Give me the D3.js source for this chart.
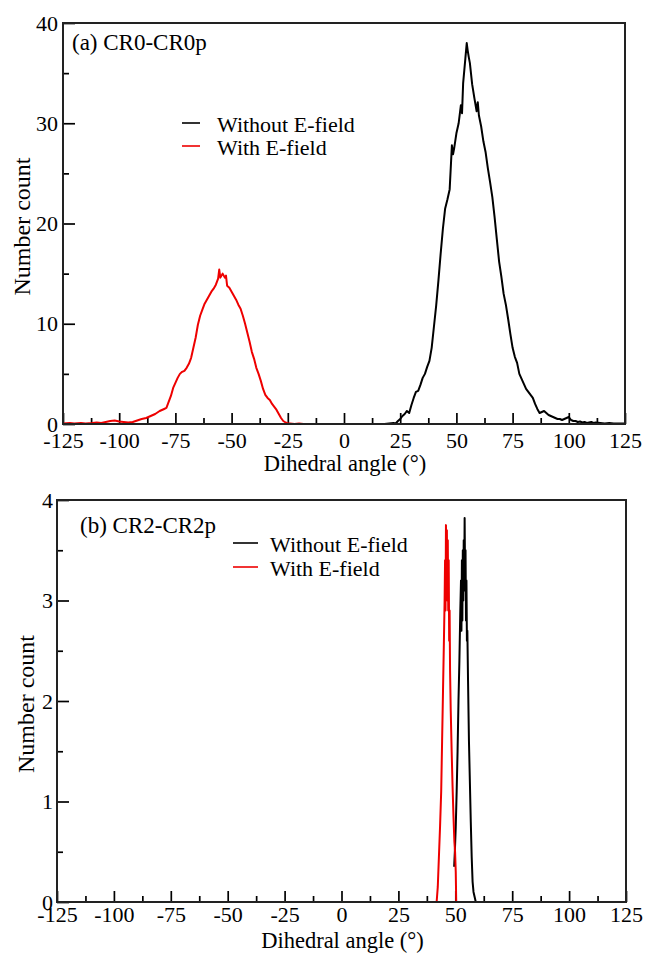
<!DOCTYPE html>
<html>
<head>
<meta charset="utf-8">
<script src="https://cdn.jsdelivr.net/npm/d3@7"></script>
<style>
  html, body { margin: 0; padding: 0; background: #fff; }
  svg { display: block; }
  svg text { font-family: "Liberation Serif", "Times New Roman", serif !important; fill: #000; }
</style>
</head>
<body>
<svg id="chart" width="648" height="956"></svg>
<script>
// ---------------- DATA ----------------
const xTicks = [-125, -100, -75, -50, -25, 0, 25, 50, 75, 100, 125];
const xMinorTicks = [-112.5, -87.5, -62.5, -37.5, -12.5, 12.5, 37.5, 62.5, 87.5, 112.5];
const yTicksA = [0, 10, 20, 30, 40];
const yMinorA = [5, 15, 25, 35];
const yTicksB = [0, 1, 2, 3, 4];
const yMinorB = [0.5, 1.5, 2.5, 3.5];
const seriesNames = ["Without E-field", "With E-field"];
const seriesColors = ["#000000", "#ee0000"];
const panelTitles = ["(a) CR0-CR0p", "(b) CR2-CR2p"];
const xLabel = "Dihedral angle (°)";
const yLabel = "Number count";

// Panel (a): CR0-CR0p, without E-field  [angle, count]
const aWithout = [
  [15,0],[18,0],[20,0.05],[22,0.1],[23,0.05],[24,0.3],[25,0.5],[26,0.8],[27,1.0],[28,1.3],[29,1.1],
  [30,1.9],[31,2.6],[32,3.2],[33,3.3],[34,3.9],[35,4.6],[36,5.0],[37,5.7],[38,6.3],[39,7.6],
  [40,9.7],[41,11.8],[42,14.3],[43,17.0],[44,19.5],[45,21.5],[46,22.4],[47,23.4],[48,27.8],[48.5,26.9],
  [49,27.5],[50,29.0],[51,30.0],[52,31.8],[52.5,31.0],[53,34.0],[54,36.5],[54.6,38.0],[55,37.3],[55.5,36.6],
  [56,36.0],[57,33.9],[58,32.5],[59,31.2],[59.5,32.1],[60,30.8],[61,29.7],[62,28.2],[63,27.1],[64,25.5],
  [65,24.1],[66,22.6],[67,20.6],[68,18.4],[69,16.2],[70,14.7],[71,13.0],[72,11.9],[73,10.5],[74,9.0],
  [75,7.6],[76,6.7],[77,6.1],[78,5.0],[79,4.5],[80,4.0],[81,3.5],[82,3.2],[83,2.9],[84,2.6],
  [85,2.0],[86,1.5],[87,1.1],[88,1.2],[89,1.3],[90,1.1],[91,0.9],[92,0.8],[93,0.7],[94,0.6],
  [95,0.5],[96,0.5],[97,0.4],[98,0.5],[99,0.6],[100,0.7],[101,0.4],[102,0.3],[103,0.3],[104,0.2],
  [105,0.25],[106,0.15],[107,0.2],[108,0.1],[110,0.2],[111,0.1],[112,0.15],[114,0.1],[116,0.05],
  [118,0.1],[120,0.05],[122,0.05],[125,0.05]
];
// Panel (a): with E-field
const aWith = [
  [-125,0.05],[-122,0.1],[-120,0.05],[-117,0.1],[-115,0.05],[-112,0.1],[-110,0.15],[-108,0.1],
  [-106,0.2],[-104,0.3],[-102,0.35],[-100,0.25],[-98,0.2],[-96,0.15],[-94,0.2],[-92,0.35],[-90,0.5],
  [-88,0.6],[-86,0.8],[-84,1.0],[-82,1.3],[-80,1.5],[-79,1.6],[-78,2.2],[-77,2.8],[-76,3.6],[-75,4.1],
  [-74,4.6],[-73,5.0],[-72,5.2],[-71,5.3],[-70,5.6],[-69,6.0],[-68,6.6],[-67,7.6],[-66,8.6],[-65,9.9],
  [-64,10.8],[-63,11.4],[-62,12.0],[-61,12.4],[-60,12.8],[-59,13.2],[-58,13.5],[-57,13.9],[-56,14.5],
  [-55.5,15.4],[-55,14.6],[-54,15.0],[-53,14.6],[-52.5,14.8],[-52,13.8],[-51,13.6],[-50,13.2],[-49,12.8],
  [-48,12.4],[-47,11.9],[-46,11.5],[-45,10.8],[-44,10.0],[-43,9.1],[-42,8.2],[-41,7.2],[-40,6.5],
  [-39,5.6],[-38,5.0],[-37,4.3],[-36,3.5],[-35,2.9],[-34,2.6],[-33,2.4],[-32,2.0],[-31,1.7],[-30,1.4],
  [-29,1.0],[-28,0.6],[-27,0.3],[-26,0.15],[-25,0.05],[-24,0.05],[-22,0],[-20,0.05],[-18,0],[-15,0]
];
// Panel (b): CR2-CR2p, without E-field
const bWithout = [
  [49.5,0.35],[49.8,0.5],[50.2,0.75],[50.6,1.1],[51.0,1.5],[51.4,2.0],[51.8,2.4],[52.2,2.9],[52.5,3.2],
  [52.7,2.7],[52.9,3.4],[53.1,2.8],[53.3,3.5],[53.5,3.0],[53.7,3.6],[53.9,3.1],[54.1,3.82],[54.3,3.2],
  [54.5,3.5],[54.7,2.8],[54.9,3.2],[55.1,2.6],[55.3,2.7],[55.6,2.2],[56.0,1.6],[56.4,1.2],[56.8,0.8],
  [57.2,0.45],[57.6,0.2],[58.0,0.1],[58.5,0.05],[59,0]
];
// Panel (b): with E-field
const bWith = [
  [41.8,0],[42.3,0.15],[42.8,0.45],[43.3,0.75],[43.8,1.1],[44.2,1.6],[44.6,2.1],[45.0,2.6],[45.3,3.0],
  [45.5,3.4],[45.7,2.9],[45.9,3.75],[46.1,3.3],[46.3,3.7],[46.5,3.0],[46.7,3.6],[46.9,2.9],[47.1,3.4],
  [47.3,2.6],[47.5,2.9],[47.7,2.3],[48.0,1.9],[48.4,1.5],[48.8,1.15],[49.2,0.85],[49.6,0.6],[49.9,0.5],
  [50.2,0.3],[50.4,0]
];

// ---------------- DRAW ----------------
const svg = d3.select("#chart");
const FONT = "Liberation Serif, Times New Roman, serif";
const fmt = d => String(d); // plain hyphen-minus like the original

function panel(cfg) {
  const { left, right, top, bottom, yMax, yTicks, yMinor, series, title, titlePos,
          legend, xPad, yPad, xLabelY, yLabelX } = cfg;
  const x = d3.scaleLinear().domain([-125, 125]).range([left, right]);
  const y = d3.scaleLinear().domain([0, yMax]).range([bottom, top]);
  const g = svg.append("g");

  const xa = g.append("g").attr("transform", `translate(0,${bottom})`)
    .call(d3.axisBottom(x).tickValues(xTicks).tickSize(-11).tickPadding(xPad).tickFormat(fmt));
  g.append("g").attr("transform", `translate(0,${bottom})`)
    .call(d3.axisBottom(x).tickValues(xMinorTicks).tickSize(-6).tickFormat(""));
  const ya = g.append("g").attr("transform", `translate(${left},0)`)
    .call(d3.axisLeft(y).tickValues(yTicks).tickSize(-12).tickPadding(yPad).tickFormat(fmt));
  g.append("g").attr("transform", `translate(${left},0)`)
    .call(d3.axisLeft(y).tickValues(yMinor).tickSize(-6).tickFormat(""));

  g.selectAll(".domain").remove();
  g.selectAll("g").attr("font-family", FONT);
  g.selectAll(".tick line").attr("stroke", "#000").attr("stroke-width", 1.7);
  xa.selectAll("text").attr("font-family", FONT).style("font-size", "22px");
  ya.selectAll("text").attr("font-family", FONT).style("font-size", "22px");

  const line = d3.line().x(d => x(d[0])).y(d => y(d[1]));
  series.forEach((s, i) => {
    g.append("path").datum(s).attr("d", line)
      .attr("fill", "none").attr("stroke", seriesColors[i])
      .attr("stroke-width", 2).attr("stroke-linejoin", "round");
  });

  g.append("rect").attr("x", left).attr("y", top)
    .attr("width", right - left).attr("height", bottom - top)
    .attr("fill", "none").attr("stroke", "#222").attr("stroke-width", 2);

  g.append("text").attr("x", titlePos[0]).attr("y", titlePos[1])
    .attr("font-family", FONT).style("font-size", "23px").text(title);

  seriesNames.forEach((n, i) => {
    const ly = legend.y0 + i * legend.dy;
    g.append("line").attr("x1", legend.x1).attr("x2", legend.x2)
      .attr("y1", ly).attr("y2", ly).attr("stroke", seriesColors[i]).attr("stroke-width", 1.6);
    g.append("text").attr("x", legend.tx).attr("y", ly + 9)
      .attr("font-family", FONT).style("font-size", "22px").text(n);
  });

  g.append("text").attr("x", (left + right) / 2 + 1).attr("y", xLabelY)
    .attr("text-anchor", "middle").attr("font-family", FONT)
    .style("font-size", "22.5px").text(xLabel);
  g.append("text")
    .attr("transform", `translate(${yLabelX},${(top + bottom) / 2 + 3}) rotate(-90)`)
    .attr("text-anchor", "middle").attr("font-family", FONT)
    .style("font-size", "24px").text(yLabel);
}

panel({
  left: 63, right: 625, top: 23, bottom: 424, yMax: 40,
  yTicks: yTicksA, yMinor: yMinorA, series: [aWithout, aWith],
  title: panelTitles[0], titlePos: [72, 50],
  legend: { x1: 182, x2: 200, tx: 217, y0: 123, dy: 23 },
  xPad: 8, yPad: 5, xLabelY: 471, yLabelX: 30
});

panel({
  left: 57, right: 626, top: 500, bottom: 902, yMax: 4,
  yTicks: yTicksB, yMinor: yMinorB, series: [bWithout, bWith],
  title: panelTitles[1], titlePos: [80, 533],
  legend: { x1: 233, x2: 258, tx: 270, y0: 543, dy: 24 },
  xPad: 4, yPad: 4, xLabelY: 948, yLabelX: 34
});
</script>
</body>
</html>
